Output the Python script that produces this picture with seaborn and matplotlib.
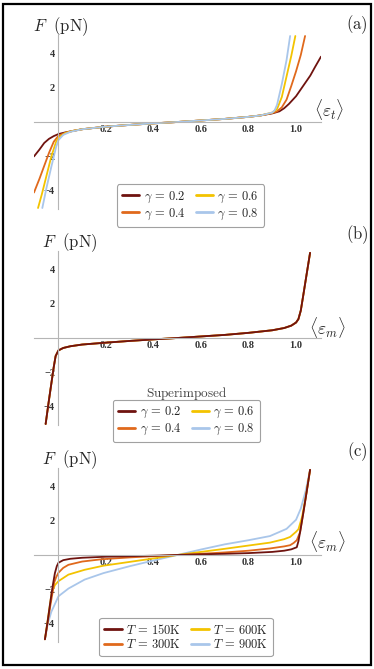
import numpy as np
import pandas as pd
import matplotlib
matplotlib.use("Agg")
import matplotlib.pyplot as plt
import seaborn as sns
from matplotlib.lines import Line2D
from matplotlib.patches import Rectangle
from matplotlib.ticker import MultipleLocator

# ---------------- data ----------------
# panel (a): F vs <eps_t> for several gamma
a_x_g02 = [-0.103, -0.08, -0.06, -0.04, -0.02, 0.0, 0.03, 0.06, 0.1, 0.2, 0.3, 0.4, 0.5,
           0.6, 0.7, 0.8, 0.85, 0.9, 0.93, 0.95, 0.97, 1.0, 1.03, 1.06, 1.08, 1.105]
a_y_g02 = [-2.0, -1.6, -1.22, -0.98, -0.82, -0.7, -0.6, -0.52, -0.42, -0.27, -0.17, -0.08, 0.0,
           0.09, 0.18, 0.3, 0.38, 0.5, 0.62, 0.8, 1.05, 1.5, 2.1, 2.7, 3.2, 3.8]
a_x_g04 = [-0.103, -0.08, -0.06, -0.04, -0.02, 0.0, 0.03, 0.06, 0.1, 0.2, 0.3, 0.4, 0.5,
           0.6, 0.7, 0.8, 0.85, 0.9, 0.92, 0.94, 0.96, 0.98, 1.0, 1.02, 1.038]
a_y_g04 = [-4.1, -3.3, -2.55, -1.8, -1.15, -0.8, -0.62, -0.52, -0.42, -0.27, -0.17, -0.08, 0.0,
           0.09, 0.18, 0.3, 0.38, 0.52, 0.62, 0.85, 1.3, 2.1, 2.95, 3.9, 5.0]
a_x_g06 = [-0.086, -0.07, -0.05, -0.03, -0.01, 0.0, 0.03, 0.06, 0.1, 0.2, 0.3, 0.4, 0.5,
           0.6, 0.7, 0.8, 0.85, 0.9, 0.92, 0.94, 0.96, 0.98, 0.997]
a_y_g06 = [-5.0, -4.2, -3.1, -2.0, -1.15, -0.9, -0.64, -0.52, -0.42, -0.27, -0.17, -0.08, 0.0,
           0.09, 0.18, 0.3, 0.38, 0.55, 0.75, 1.45, 2.65, 3.85, 5.0]
a_x_g08 = [-0.068, -0.05, -0.03, -0.01, 0.0, 0.02, 0.05, 0.1, 0.2, 0.3, 0.4, 0.5,
           0.6, 0.7, 0.8, 0.85, 0.9, 0.91, 0.92, 0.94, 0.96, 0.975]
a_y_g08 = [-5.0, -3.8, -2.6, -1.45, -1.05, -0.75, -0.57, -0.42, -0.27, -0.17, -0.08, 0.0,
           0.09, 0.18, 0.3, 0.38, 0.55, 0.68, 1.0, 2.2, 3.6, 5.0]

# panel (b): F vs <eps_m>, all gamma superimposed
b_x = [-0.054, -0.04, -0.03, -0.02, -0.012, 0.0, 0.02, 0.05, 0.1, 0.2, 0.3, 0.4, 0.5,
       0.6, 0.7, 0.8, 0.9, 0.95, 0.98, 1.0, 1.01, 1.02, 1.03, 1.045, 1.059]
b_y = [-5.0, -3.6, -2.65, -1.7, -1.05, -0.72, -0.58, -0.48, -0.38, -0.27, -0.17, -0.08, 0.0,
       0.09, 0.18, 0.3, 0.45, 0.58, 0.72, 0.9, 1.1, 1.6, 2.45, 3.75, 4.95]

# panel (c): F vs <eps_m> for several temperatures
c_x_150 = [-0.057, -0.045, -0.035, -0.025, -0.015, -0.007, 0.0, 0.02, 0.05, 0.1, 0.2, 0.3, 0.4,
           0.5, 0.6, 0.7, 0.8, 0.9, 0.95, 0.98, 1.003, 1.01, 1.017, 1.03, 1.045, 1.059]
c_y_150 = [-4.9, -3.8, -2.8, -1.85, -1.05, -0.65, -0.45, -0.3, -0.22, -0.16, -0.1, -0.07, -0.04,
           0.0, 0.04, 0.07, 0.11, 0.18, 0.25, 0.33, 0.45, 0.8, 1.33, 2.4, 3.7, 4.95]
c_x_300 = [-0.057, -0.045, -0.035, -0.025, -0.018, -0.01, 0.0, 0.02, 0.042, 0.1, 0.18, 0.3, 0.4,
           0.5, 0.6, 0.7, 0.8, 0.89, 0.95, 0.975, 0.99, 1.003, 1.017, 1.03, 1.045, 1.059]
c_y_300 = [-4.9, -3.9, -3.0, -2.2, -1.6, -1.3, -1.03, -0.75, -0.57, -0.38, -0.25, -0.14, -0.07,
           0.0, 0.07, 0.15, 0.25, 0.38, 0.5, 0.57, 0.7, 0.86, 1.33, 2.4, 3.7, 4.95]
c_x_600 = [-0.057, -0.045, -0.035, -0.028, -0.015, 0.0, 0.042, 0.11, 0.19, 0.3, 0.4,
           0.5, 0.6, 0.7, 0.8, 0.89, 0.95, 0.975, 1.0, 1.01, 1.025, 1.04, 1.059]
c_y_600 = [-4.9, -3.75, -2.8, -2.15, -1.75, -1.52, -1.14, -0.86, -0.62, -0.4, -0.2,
           0.0, 0.18, 0.36, 0.55, 0.72, 0.92, 1.05, 1.35, 1.5, 2.2, 3.3, 4.95]
c_x_900 = [-0.057, -0.045, -0.03, -0.015, 0.0, 0.042, 0.11, 0.19, 0.3, 0.4,
           0.5, 0.6, 0.7, 0.8, 0.89, 0.96, 1.0, 1.02, 1.04, 1.059]
c_y_900 = [-4.9, -4.0, -3.3, -2.85, -2.4, -1.95, -1.43, -1.05, -0.65, -0.32,
           0.0, 0.32, 0.62, 0.86, 1.1, 1.52, 2.05, 2.7, 3.7, 4.95]

gamma_labels = [r"$\gamma\, =\, 0.2$", r"$\gamma\, =\, 0.4$", r"$\gamma\, =\, 0.6$", r"$\gamma\, =\, 0.8$"]
temp_labels = [r"$T\, =\, 150\mathrm{K}$", r"$T\, =\, 300\mathrm{K}$",
               r"$T\, =\, 600\mathrm{K}$", r"$T\, =\, 900\mathrm{K}$"]
x_ticks = [0.2, 0.4, 0.6, 0.8, 1.0]
y_ticks = [-4, -2, 2, 4]
colors = ["#6f130f", "#e0691c", "#f3c300", "#a9c6ea"]

# ---------------- style ----------------
sns.set_style("white")
plt.rcParams["font.family"] = ["Liberation Serif", "DejaVu Serif"]
plt.rcParams["mathtext.fontset"] = "cm"

W, H = 374, 669
fig = plt.figure(figsize=(W / 100, H / 100), dpi=100)


def long_df(xs, ys, labels):
    frames = []
    for x, y, lab in zip(xs, ys, labels):
        frames.append(pd.DataFrame({"x": x, "F": y, "curve": lab}))
    return pd.concat(frames, ignore_index=True)


def make_axes(y0_px):
    # x from -0.103 (px 34) to 1.105 (px 321); y scale ~17.2 px / unit
    half = 5.05 * 17.2
    bottom_px = y0_px + half
    ax = fig.add_axes([34 / W, 1 - bottom_px / H, 287 / W, 2 * half / H])
    ax.set_xlim(-0.103, 1.105)
    ax.set_ylim(-5.05, 5.05)
    ax.patch.set_alpha(0)
    for s in ["top", "right"]:
        ax.spines[s].set_visible(False)
    for s in ["left", "bottom"]:
        ax.spines[s].set_position(("data", 0))
        ax.spines[s].set_color("#b5b5b5")
        ax.spines[s].set_linewidth(0.8)
    ax.set_xticks(x_ticks)
    ax.set_xticklabels([f"{t:.1f}" for t in x_ticks])
    ax.set_yticks(y_ticks)
    ax.set_yticklabels([f"{t:d}".replace("-", "\u2212") for t in y_ticks])
    ax.xaxis.set_minor_locator(MultipleLocator(0.05))
    ax.tick_params(axis="both", which="major", direction="in", length=3.5, width=0.6,
                   color="#9a9a9a", labelsize=7.5, pad=2.5)
    ax.tick_params(axis="x", which="minor", direction="in", length=2, width=0.5,
                   color="#b5b5b5")
    ax.tick_params(axis="y", which="minor", length=0)
    for lab in ax.get_xticklabels() + ax.get_yticklabels():
        lab.set_fontweight("bold")
        lab.set_color("#333333")
    ax.set_xlabel("")
    ax.set_ylabel("")
    return ax


def fig_text(x, y, s, **kw):
    fig.text(x / W, 1 - y / H, s, **kw)


def add_legend(labels, cx, cy):
    handles = [Line2D([], [], color=c, lw=2) for c in colors]
    leg = fig.legend(handles, labels, ncol=2, loc="center",
                     bbox_to_anchor=(cx / W, 1 - cy / H), frameon=True, fancybox=True,
                     fontsize=9, handlelength=1.4, handletextpad=0.35,
                     columnspacing=0.8, labelspacing=0.15, borderpad=0.4)
    leg.get_frame().set_edgecolor("#8a8a8a")
    leg.get_frame().set_linewidth(0.8)
    return leg


# ---------------- panel (a) ----------------
ax_a = make_axes(122)
df_a = long_df([a_x_g02, a_x_g04, a_x_g06, a_x_g08],
               [a_y_g02, a_y_g04, a_y_g06, a_y_g08], gamma_labels)
sns.lineplot(data=df_a, x="x", y="F", hue="curve", hue_order=gamma_labels,
             palette=colors, sort=False, estimator=None, lw=1.3, legend=False, ax=ax_a)
ax_a.set_xlabel("")
ax_a.set_ylabel("")
fig_text(33, 27, r"$F\ \ \mathrm{(pN)}$", fontsize=12, va="center", ha="left")
fig_text(357, 25, r"$\mathrm{(a)}$", fontsize=12, va="center", ha="center")
fig_text(329, 109, r"$\langle \varepsilon_t \rangle$", fontsize=12.5, va="center", ha="center")
add_legend(gamma_labels, 190.5, 205.5)

# ---------------- panel (b) ----------------
ax_b = make_axes(338)
df_b = long_df([b_x] * 4, [b_y] * 4, gamma_labels)
sns.lineplot(data=df_b, x="x", y="F", hue="curve", hue_order=gamma_labels[::-1],
             palette=colors[::-1], sort=False, estimator=None, lw=1.3, legend=False, ax=ax_b)
ax_b.set_xlabel("")
ax_b.set_ylabel("")
fig_text(42, 243, r"$F\ \ \mathrm{(pN)}$", fontsize=12, va="center", ha="left")
fig_text(357, 235, r"$\mathrm{(b)}$", fontsize=12, va="center", ha="center")
fig_text(327, 327, r"$\langle \varepsilon_m \rangle$", fontsize=12.5, va="center", ha="center")
fig_text(187, 393, r"$\mathrm{Superimposed}$", fontsize=9.5, va="center", ha="center",
         color="#444444")
add_legend(gamma_labels, 186.5, 421)

# ---------------- panel (c) ----------------
ax_c = make_axes(555)
df_c = long_df([c_x_150, c_x_300, c_x_600, c_x_900],
               [c_y_150, c_y_300, c_y_600, c_y_900], temp_labels)
sns.lineplot(data=df_c, x="x", y="F", hue="curve", hue_order=temp_labels[::-1],
             palette=colors[::-1], sort=False, estimator=None, lw=1.3, legend=False, ax=ax_c)
ax_c.set_xlabel("")
ax_c.set_ylabel("")
fig_text(42, 460, r"$F\ \ \mathrm{(pN)}$", fontsize=12, va="center", ha="left")
fig_text(357, 452, r"$\mathrm{(c)}$", fontsize=12, va="center", ha="center")
fig_text(327, 542, r"$\langle \varepsilon_m \rangle$", fontsize=12.5, va="center", ha="center")
add_legend(temp_labels, 186, 637)

# outer frame
fig.add_artist(Rectangle((3 / W, 4 / H), 368 / W, 661 / H, transform=fig.transFigure,
                         fill=False, lw=1.6, ec="black"))

fig.savefig("out.png", dpi=100)
